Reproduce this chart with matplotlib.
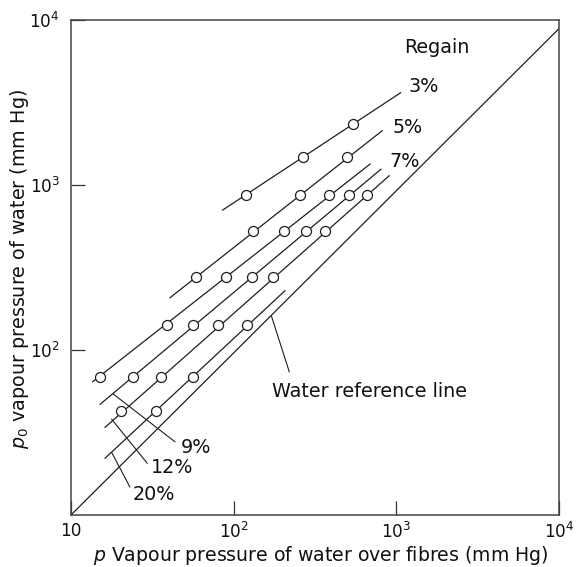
import matplotlib
matplotlib.use("Agg")
import matplotlib.pyplot as plt

# Vapour pressure of water over fibres (p) against saturation pressure (p0), mm Hg
regain = ['3%', '5%', '7%', '9%', '12%', '20%']

p_points = [
    [118.9, 265, 537],
    [58.6, 131.8, 255, 498],
    [15.1, 38.7, 89.9, 202.5, 384.6],
    [23.9, 56.4, 129.4, 277.6, 512.4],
    [20.3, 35.6, 80.4, 175, 361.5, 658],
    [33.1, 56.4, 120],
]
p0_points = [
    [869, 1472, 2344],
    [277, 526, 869, 1472],
    [68.9, 141, 277, 526, 869],
    [68.9, 141, 277, 526, 869],
    [42.9, 68.9, 141, 277, 526, 869],
    [42.9, 68.9, 141],
]

# extent of each drawn line (start, end)
line_p = [
    [85.5, 1059],
    [40.6, 817],
    [13.6, 689],
    [15.1, 801.6],
    [16.2, 902],
    [16.2, 206.3],
]
line_p0 = [
    [705, 3622],
    [207.5, 2133],
    [64.3, 1341],
    [46.9, 1245],
    [34.0, 1138],
    [22.1, 228.6],
]

# water reference line
water_p = [10, 10000]
water_p0 = [10, 8900]

x_ticks = [10, 100, 1000, 10000]
x_tick_labels = ['10', '$10^2$', '$10^3$', '$10^4$']
y_ticks = [100, 1000, 10000]
y_tick_labels = ['$10^2$', '$10^3$', '$10^4$']

ink = '#1e1e1e'

fig = plt.figure(figsize=(5.79, 5.67), dpi=100)
ax = fig.add_axes([0.1226, 0.0917, 0.8433, 0.873])
ax.set_xscale('log')
ax.set_yscale('log')
ax.set_xlim(10, 10000)
ax.set_ylim(10, 10000)

ax.plot(water_p, water_p0, color=ink, lw=0.9)
for i in range(len(regain)):
    ax.plot(line_p[i], line_p0[i], color=ink, lw=0.9, zorder=2)
    ax.plot(p_points[i], p0_points[i], 'o', ms=7.2, mfc='white', mec=ink,
            mew=0.9, zorder=3)

txt = dict(fontsize=13.8, color='#111111', family='DejaVu Sans')

# labels at the upper ends of the lines
ax.text(1763, 6283, 'Regain', ha='center', va='baseline', **txt)
ax.text(1180, 3678, '3%', ha='left', va='baseline', **txt)
ax.text(946, 2075, '5%', ha='left', va='baseline', **txt)
ax.text(902, 1279, '7%', ha='left', va='baseline', **txt)

# leader lines for the lower ends
leaders = [
    ([18.19, 43.5], [54.1, 27.8], (47.4, 23.9), '9%'),
    ([17.8, 29.4], [38.0, 20.6], (30.9, 18.05), '12%'),
    ([17.8, 23.0], [23.9, 14.8], (23.9, 12.33), '20%'),
    ([170.9, 219.3], [159.2, 73.9], (170.9, 51.7), 'Water reference line'),
]
for lx, ly, (tx, ty), label in leaders:
    ax.plot(lx, ly, color=ink, lw=0.8)
    ax.text(tx, ty, label, ha='left', va='baseline', **txt)

ax.set_xticks(x_ticks)
ax.set_xticklabels(x_tick_labels)
ax.set_yticks(y_ticks)
ax.set_yticklabels(y_tick_labels)
ax.minorticks_off()
ax.tick_params(direction='in', length=10, width=0.9, color='#333333',
               labelsize=12.2, labelcolor='#111111')
ax.tick_params(axis='x', pad=5)
ax.tick_params(axis='y', pad=8)

for s in ax.spines.values():
    s.set_color('#444444')
    s.set_linewidth(1.1)

# axis titles placed on the figure so they sit close to the edges
fig.text(0.5537, 1 - 561 / 567, '$p$ Vapour pressure of water over fibres (mm Hg)',
         ha='center', va='baseline', fontsize=13.6, color='#111111')
fig.text(20 / 579, 1 - 268.5 / 567, '$p_0$ vapour pressure of water (mm Hg)',
         ha='center', va='center', rotation=90, fontsize=13.8, color='#111111')

fig.savefig('out.png', dpi=100)
